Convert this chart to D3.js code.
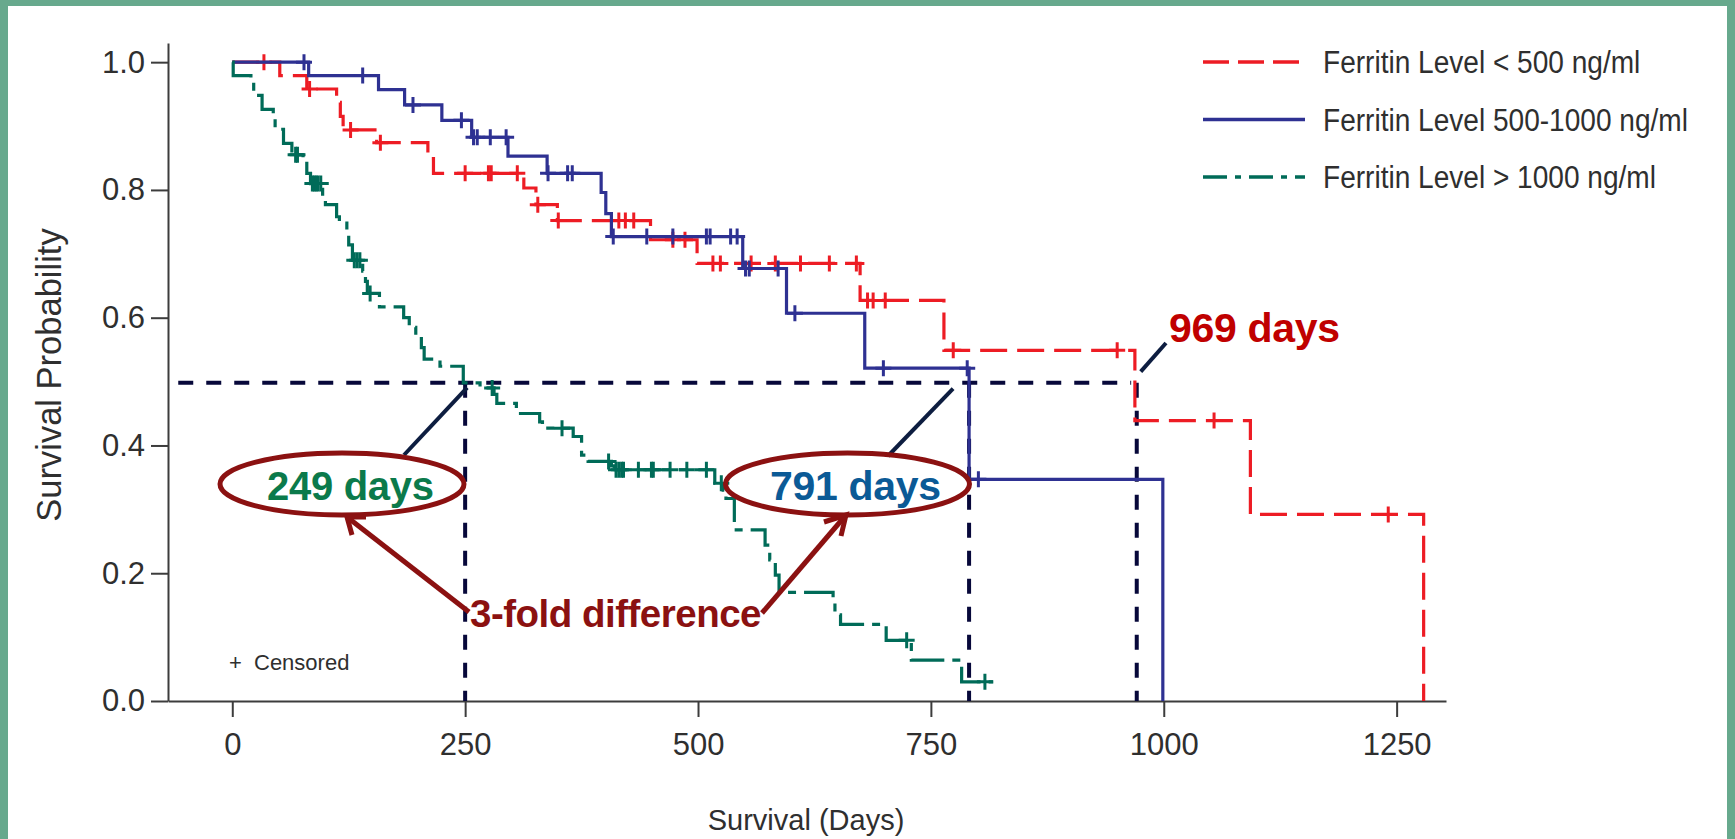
<!DOCTYPE html>
<html>
<head>
<meta charset="utf-8">
<script src="https://cdn.jsdelivr.net/npm/d3@7"></script>
<style>
  body { margin: 0; background: #fff; }
  text { font-family: "Liberation Sans", Arial, Helvetica, sans-serif; }
</style>
</head>
<body>
<div id="chart"></div>
<script>
// chart data: [day, survival after step]
const redSteps = [[0, 1], [51, 0.979], [80, 0.958], [112, 0.937], [116, 0.915], [119, 0.894], [155, 0.874],
    [210, 0.849], [216, 0.826], [313, 0.803], [326, 0.777], [349, 0.752], [449, 0.722], [499, 0.685],
    [674, 0.627], [764, 0.549], [969, 0.439], [1093, 0.292], [1279, 0]];
const redCensor = [34, 83, 127, 159, 250, 275, 278, 306, 328, 350, 415, 422, 431, 473, 486, 516, 524,
    557, 583, 610, 641, 670, 682, 688, 701, 774, 950, 1054, 1241];

const blueSteps = [[0, 1], [82, 0.979], [157, 0.957], [185, 0.933], [225, 0.909], [257, 0.8825], [296, 0.853],
    [338, 0.826], [396, 0.796], [401, 0.763], [407, 0.727], [548, 0.677], [595, 0.607], [679, 0.521],
    [791, 0.347], [999, 0]];
const blueCensor = [77, 140, 194, 246, 259, 263, 277, 294, 339, 360, 365, 409, 445, 473, 509, 513, 535,
    542, 551, 555, 586, 604, 699, 789, 801];

const greenSteps = [[0, 1], [1, 0.979], [20, 0.969], [23, 0.948], [32, 0.926], [44, 0.912], [46, 0.895],
    [55, 0.873], [64, 0.855], [76, 0.845], [80, 0.826], [84, 0.81], [97, 0.79], [100, 0.777], [112, 0.758],
    [115, 0.748], [123, 0.733], [125, 0.714], [129, 0.69], [140, 0.673], [143, 0.657], [145, 0.638],
    [158, 0.617], [184, 0.6], [190, 0.585], [197, 0.57], [203, 0.553], [206, 0.535], [223, 0.524],
    [248, 0.498], [266, 0.49], [281, 0.48], [284, 0.466], [305, 0.45], [330, 0.437], [333, 0.427],
    [366, 0.414], [375, 0.385], [382, 0.375], [407, 0.368], [410, 0.362], [518, 0.341], [527, 0.33],
    [530, 0.317], [539, 0.268], [572, 0.244], [577, 0.221], [583, 0.197], [587, 0.17], [645, 0.158],
    [647, 0.135], [653, 0.12], [702, 0.095], [729, 0.064], [783, 0.03], [817, 0.03]];
const greenCensor = [68, 70, 86, 88, 90, 92, 95, 131, 134, 137, 148, 279, 354, 404, 412, 415, 418, 420,
    436, 450, 452, 470, 488, 509, 525, 724, 808];

const seriesNames = ["Ferritin Level < 500 ng/ml", "Ferritin Level 500-1000 ng/ml", "Ferritin Level > 1000 ng/ml"];
const xTicks = [0, 250, 500, 750, 1000, 1250];
const yTicks = [0, 0.2, 0.4, 0.6, 0.8, 1.0];
const medianDays = [250, 791, 971];
const medianLabels = ["249 days", "791 days", "969 days"];

// set dimensions
const width = 1735, height = 839;

const svg = d3.select("#chart").append("svg")
    .attr("width", width)
    .attr("height", height);

svg.append("rect").attr("width", width).attr("height", height).attr("fill", "#fff");

// green frame
const frame = "#67a98d";
svg.append("rect").attr("x", 0).attr("y", 0).attr("width", width).attr("height", 6).attr("fill", frame);
svg.append("rect").attr("x", 0).attr("y", 0).attr("width", 8).attr("height", height).attr("fill", frame);
svg.append("rect").attr("x", width - 8).attr("y", 0).attr("width", 8).attr("height", height).attr("fill", frame);

// scales
const x = d3.scaleLinear().domain([-69, 1303]).range([168, 1446]);
const y = d3.scaleLinear().domain([0, 1.03]).range([701, 43]);

// axes
const xAxis = svg.append("g")
    .attr("transform", "translate(0,701)")
    .call(d3.axisBottom(x).tickValues(xTicks).tickSize(16).tickSizeOuter(0).tickPadding(16)
        .tickFormat(d3.format("d")));
const yAxis = svg.append("g")
    .attr("transform", "translate(168,0)")
    .call(d3.axisLeft(y).tickValues(yTicks).tickSize(17).tickSizeOuter(0).tickPadding(6)
        .tickFormat(d3.format(".1f")));

[xAxis, yAxis].forEach(g => {
    g.selectAll("path, line").attr("stroke", "#3c3c3c").attr("stroke-width", 2);
    g.selectAll("text").attr("fill", "#2f2f2f").style("font-size", "31px")
        .style("font-family", "'Liberation Sans', Arial, sans-serif");
});

svg.append("text")
    .attr("x", 806).attr("y", 830)
    .attr("text-anchor", "middle")
    .attr("fill", "#2f2f2f")
    .style("font-size", "29px")
    .text("Survival (Days)");

svg.append("text")
    .attr("transform", "translate(61,375) rotate(-90)")
    .attr("text-anchor", "middle")
    .attr("fill", "#2f2f2f")
    .style("font-size", "34.5px")
    .text("Survival Probability");

// series settings
const series = [
    {steps: redSteps, censor: redCensor, color: "#ed1c24", dash: "27,10", legendDash: "26,9"},
    {steps: blueSteps, censor: blueCensor, color: "#2e3192", dash: null, legendDash: null},
    {steps: greenSteps, censor: greenCensor, color: "#006b58", dash: "34,8,8,8", legendDash: "24,8,6,8"}
];

const line = d3.line()
    .x(d => x(d[0]))
    .y(d => y(d[1]))
    .curve(d3.curveStepAfter);

// survival value at a given day
function survAt(steps, day) {
    let s = steps[0][1];
    steps.forEach(p => { if (p[0] <= day) s = p[1]; });
    return s;
}

// median reference lines
const refColor = "#07083a";
svg.append("line")
    .attr("x1", x(-58)).attr("x2", x(965))
    .attr("y1", y(0.498)).attr("y2", y(0.498))
    .attr("stroke", refColor).attr("stroke-width", 4).attr("stroke-dasharray", "15,13");
svg.selectAll(".medianV")
    .data(medianDays)
    .enter()
    .append("line")
    .attr("class", "medianV")
    .attr("x1", d => x(d)).attr("x2", d => x(d))
    .attr("y1", y(0.498)).attr("y2", y(0))
    .attr("stroke", refColor).attr("stroke-width", 4).attr("stroke-dasharray", "15,13");

// curves
series.forEach(s => {
    svg.append("path")
        .datum(s.steps)
        .attr("d", line)
        .attr("fill", "none")
        .attr("stroke", s.color)
        .attr("stroke-width", 3.2)
        .attr("stroke-dasharray", s.dash);

    svg.selectAll(null)
        .data(s.censor)
        .enter()
        .append("path")
        .attr("d", d => {
            const cx = x(d), cy = y(survAt(s.steps, d));
            return `M${cx - 8},${cy}H${cx + 8}M${cx},${cy - 8}V${cy + 8}`;
        })
        .attr("stroke", s.color)
        .attr("stroke-width", 3)
        .attr("fill", "none");
});

// legend
const legend = svg.selectAll(".legend-row")
    .data(series)
    .enter()
    .append("g")
    .attr("class", "legend-row")
    .attr("transform", (d, i) => `translate(0,${62 + i * 57.5})`);

legend.append("line")
    .attr("x1", 1203).attr("x2", 1305)
    .attr("stroke", d => d.color)
    .attr("stroke-width", 3.5)
    .attr("stroke-dasharray", d => d.legendDash);

legend.append("text")
    .attr("x", 1323).attr("y", 11)
    .attr("fill", "#2f2f2f")
    .style("font-size", "31px")
    .text((d, i) => seriesNames[i])
    .each(function() {
        // the original font is narrower, squeeze it a bit
        const w = this.getComputedTextLength();
        d3.select(this).attr("textLength", w * 0.905).attr("lengthAdjust", "spacingAndGlyphs");
    });

// censored note
svg.append("text").attr("x", 229).attr("y", 670).attr("fill", "#2f2f2f").style("font-size", "22px").text("+");
svg.append("text").attr("x", 254).attr("y", 670).attr("fill", "#2f2f2f").style("font-size", "22px").text("Censored");

// annotations
const darkRed = "#8b1111", leader = "#0d1d40";

// leader lines from median points
const leaders = [
    [x(medianDays[0]) + 2, y(0.5) + 6, 404, 455],
    [x(medianDays[1]) - 16, y(0.5) + 7, 888, 456],
    [x(medianDays[2]) + 4, y(0.5) - 10, 1166, 343]
];
leaders.forEach(l => {
    svg.append("line")
        .attr("x1", l[0]).attr("y1", l[1]).attr("x2", l[2]).attr("y2", l[3])
        .attr("stroke", leader).attr("stroke-width", 4);
});

// ellipses
[[342, 484], [847.5, 484]].forEach(c => {
    svg.append("ellipse")
        .attr("cx", c[0]).attr("cy", c[1])
        .attr("rx", 122).attr("ry", 31)
        .attr("fill", "none")
        .attr("stroke", darkRed)
        .attr("stroke-width", 5);
});

const labelStyle = [
    {x: 267, y: 500, color: "#0b7a4b", size: 40},
    {x: 770, y: 500, color: "#0b5a96", size: 41},
    {x: 1169, y: 342, color: "#c00000", size: 41}
];
labelStyle.forEach((d, i) => {
    svg.append("text")
        .attr("x", d.x).attr("y", d.y)
        .attr("fill", d.color)
        .style("font-size", d.size + "px")
        .style("font-weight", "bold")
        .style("letter-spacing", "-0.3px")
        .text(medianLabels[i]);
});

svg.append("text")
    .attr("x", 470).attr("y", 627)
    .attr("fill", darkRed)
    .style("font-size", "38.5px")
    .style("font-weight", "bold")
    .style("letter-spacing", "-0.5px")
    .text("3-fold difference");

// arrows: shaft start, tip, two head arms
const arrows = [
    {from: [469, 612], tip: [347, 517], a: [366, 517], b: [352, 535]},
    {from: [762, 613], tip: [846, 515], a: [824, 522], b: [841, 536]}
];
arrows.forEach(a => {
    svg.append("line")
        .attr("x1", a.from[0]).attr("y1", a.from[1]).attr("x2", a.tip[0]).attr("y2", a.tip[1])
        .attr("stroke", darkRed).attr("stroke-width", 5);
    svg.append("path")
        .attr("d", `M${a.a[0]},${a.a[1]}L${a.tip[0]},${a.tip[1]}L${a.b[0]},${a.b[1]}`)
        .attr("fill", "none")
        .attr("stroke", darkRed).attr("stroke-width", 5);
});
</script>
</body>
</html>
